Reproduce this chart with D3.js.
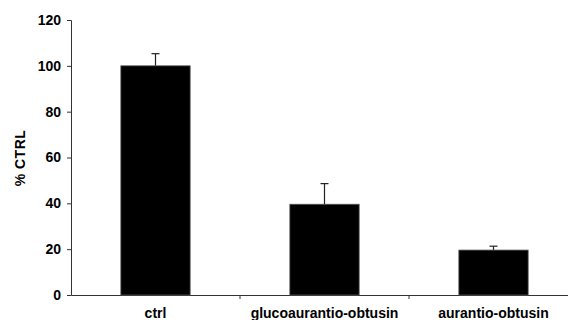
<!DOCTYPE html>
<html>
<head>
<meta charset="utf-8">
<script src="https://cdn.jsdelivr.net/npm/d3@7"></script>
<style>
  body { margin: 0; background: #fff; }
  svg { display: block; }
  text { font-family: Arial, "Liberation Sans", sans-serif; font-weight: bold; fill: #000; }
</style>
</head>
<body>
<script>
const categories = ['ctrl', 'glucoaurantio-obtusin', 'aurantio-obtusin'];
const values = [100, 39.6, 19.6];
const errors = [5.3, 9.0, 1.7];
const yTicks = [0, 20, 40, 60, 80, 100, 120];

const width = 568, height = 320;

const svg = d3.select('body')
  .append('svg')
  .attr('width', width)
  .attr('height', height);

const x = d3.scaleBand()
  .domain(categories)
  .range([71, 578])
  .paddingInner(0)
  .paddingOuter(0);

const y = d3.scaleLinear()
  .domain([0, 120])
  .range([295, 20]);

// y axis
let yAxis = svg.append('g')
  .attr('transform', 'translate(71,0)')
  .call(d3.axisLeft(y).tickValues(yTicks).tickSize(4).tickPadding(6));
yAxis.select('.domain').attr('stroke', '#333');
yAxis.selectAll('.tick line').attr('stroke', '#333');
yAxis.selectAll('text').style('font-size', '14px');

// x axis
let xAxis = svg.append('g')
  .attr('transform', 'translate(0,295)')
  .call(d3.axisBottom(x).tickSize(0).tickPadding(13).tickSizeOuter(0));
xAxis.select('.domain').attr('stroke', '#333');
xAxis.selectAll('text').style('font-size', '14px');

// category boundary ticks
svg.append('g')
  .selectAll('line')
  .data(categories.slice(1))
  .join('line')
  .attr('x1', d => x(d))
  .attr('x2', d => x(d))
  .attr('y1', 295)
  .attr('y2', 299)
  .attr('stroke', '#333');

const barW = x.bandwidth() * 0.41;

// error bars
let err = svg.append('g')
  .selectAll('g')
  .data(categories)
  .join('g');

err.append('line')
  .attr('x1', d => x(d) + x.bandwidth() / 2)
  .attr('x2', d => x(d) + x.bandwidth() / 2)
  .attr('y1', (d, i) => y(values[i]))
  .attr('y2', (d, i) => y(values[i] + errors[i]))
  .attr('stroke', '#222')
  .attr('stroke-width', 1.2);

err.append('line')
  .attr('x1', d => x(d) + x.bandwidth() / 2 - 4)
  .attr('x2', d => x(d) + x.bandwidth() / 2 + 4)
  .attr('y1', (d, i) => y(values[i] + errors[i]))
  .attr('y2', (d, i) => y(values[i] + errors[i]))
  .attr('stroke', '#222')
  .attr('stroke-width', 1.2);

// bars
svg.append('g')
  .selectAll('rect')
  .data(categories)
  .join('rect')
  .attr('x', d => x(d) + (x.bandwidth() - barW) / 2)
  .attr('y', (d, i) => y(values[i]))
  .attr('width', barW)
  .attr('height', (d, i) => y(0) - y(values[i]))
  .attr('fill', '#000')
  .attr('stroke', '#555')
  .attr('stroke-width', 0.8);

// y label
svg.append('text')
  .attr('transform', 'translate(25,158) rotate(-90)')
  .attr('text-anchor', 'middle')
  .style('font-size', '14px')
  .style('letter-spacing', '0.5px')
  .text('% CTRL');
</script>
</body>
</html>
